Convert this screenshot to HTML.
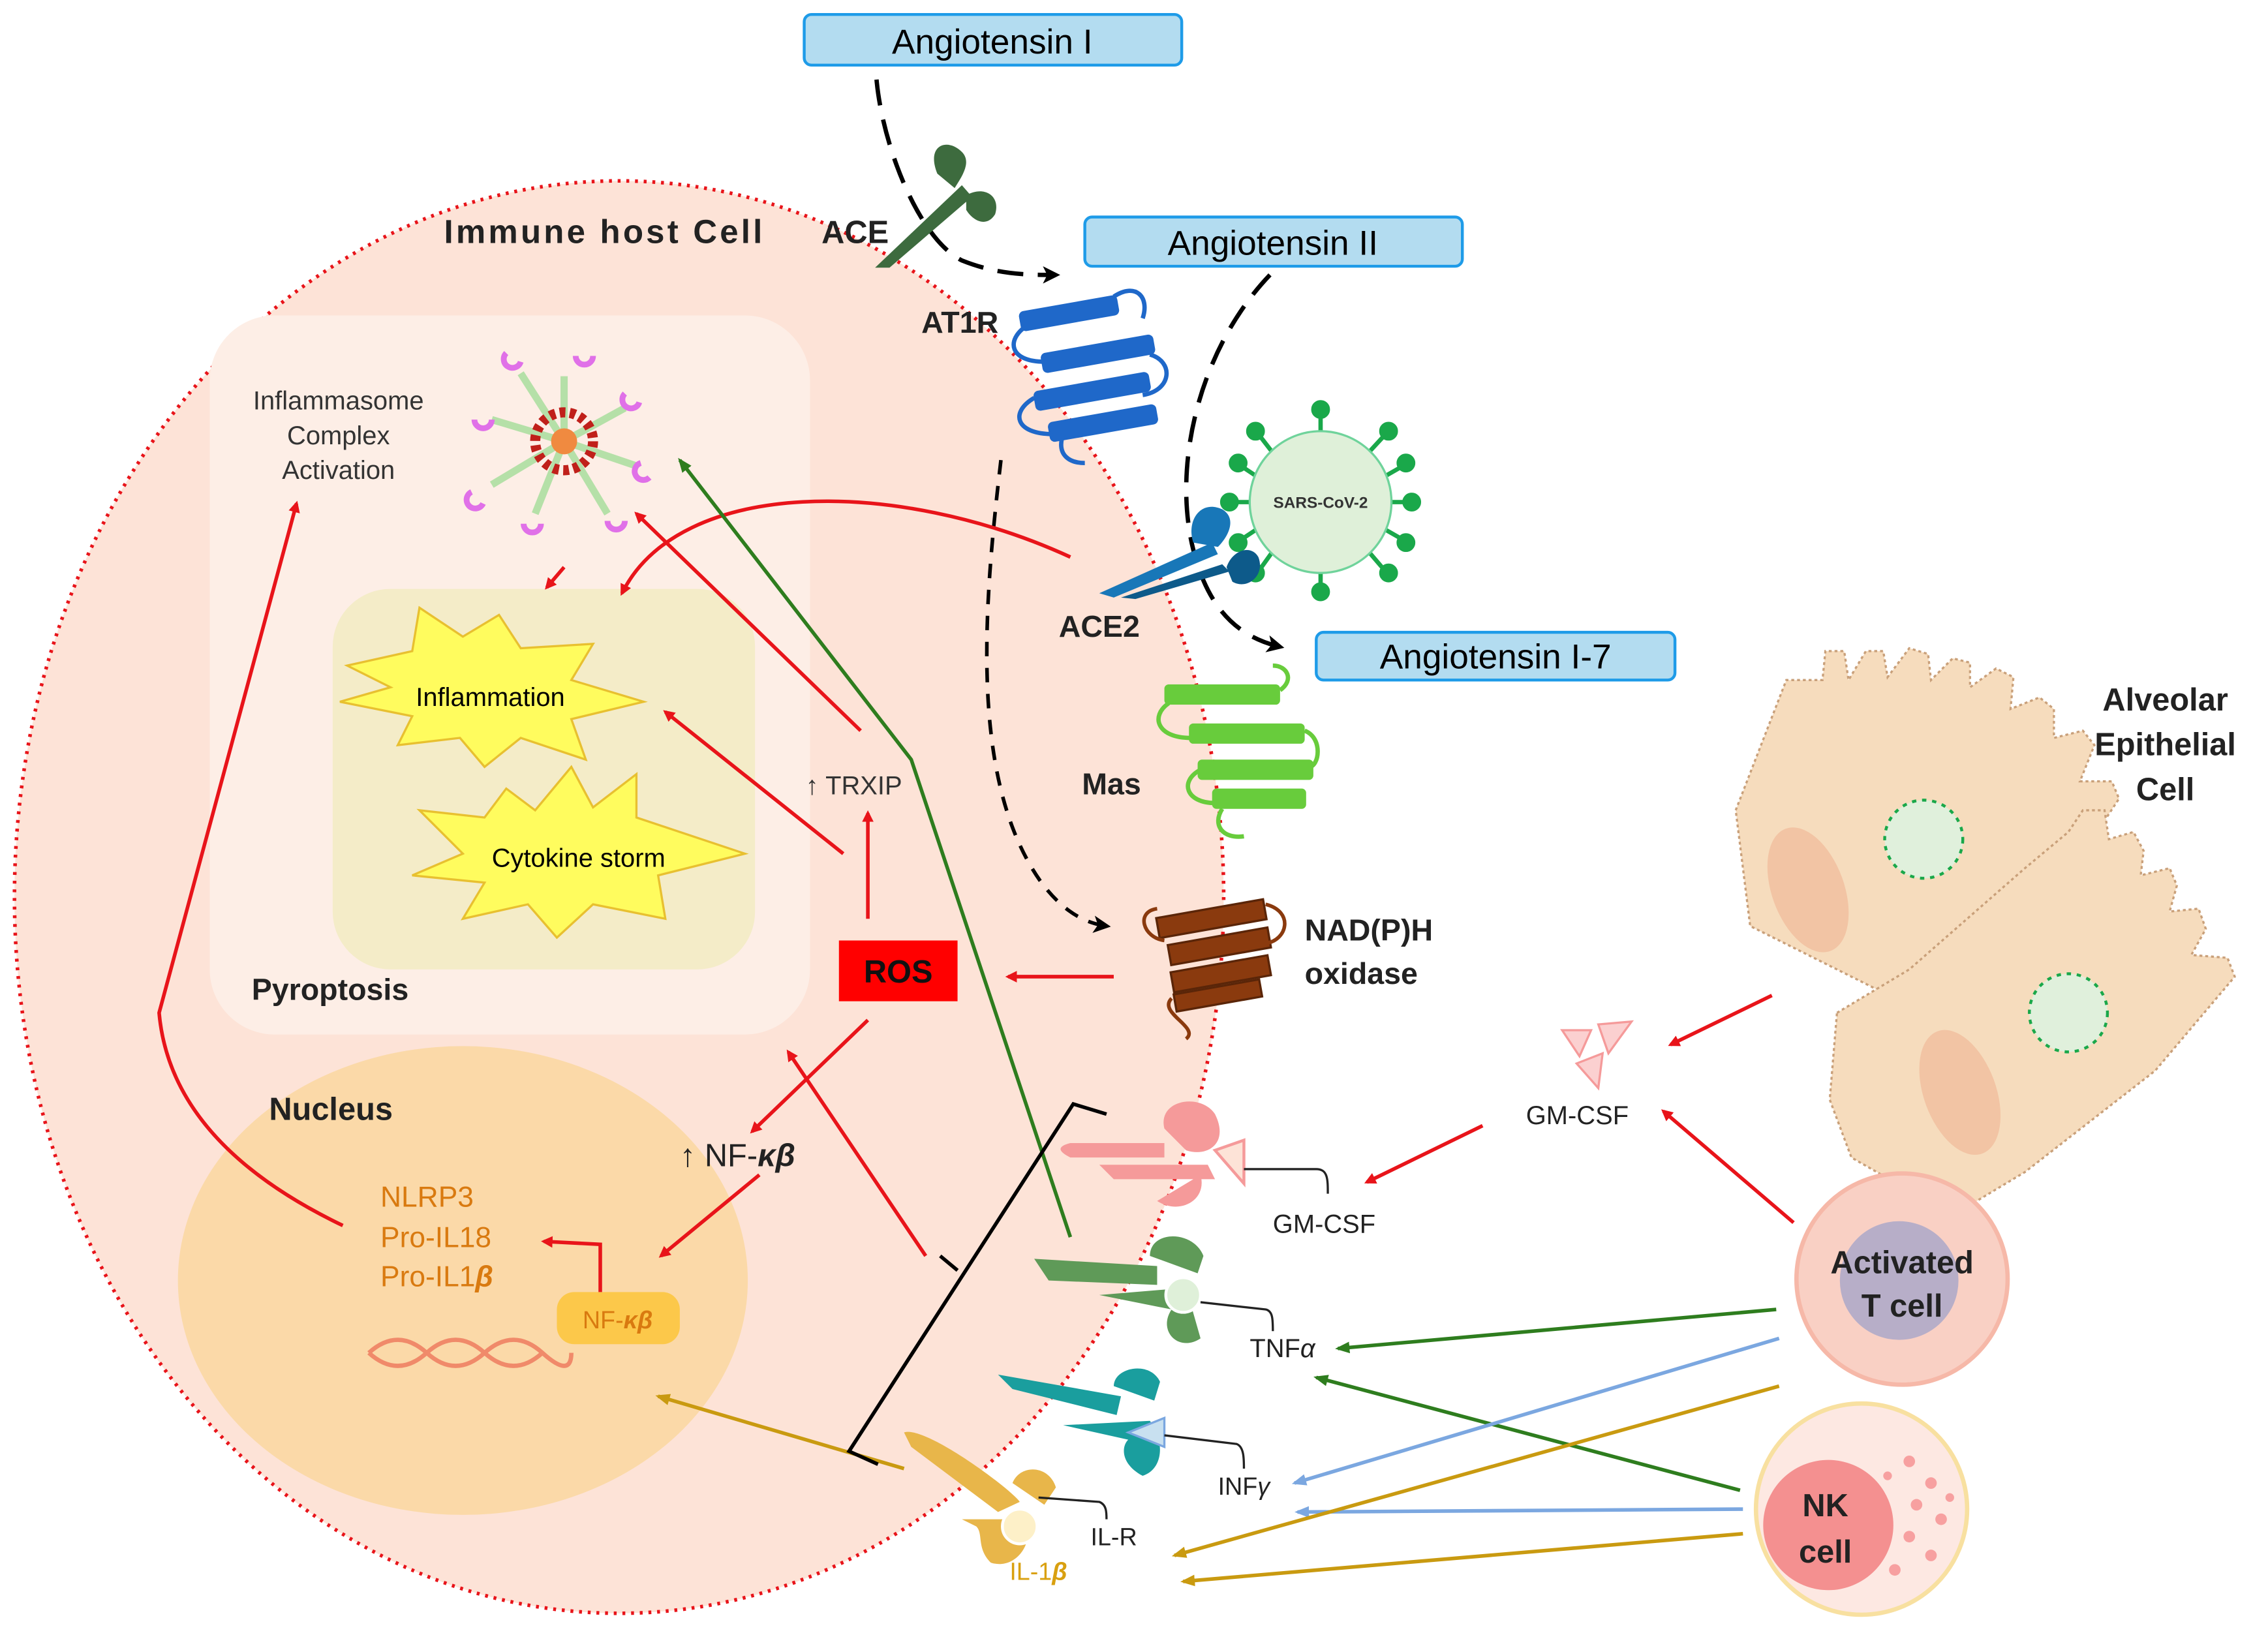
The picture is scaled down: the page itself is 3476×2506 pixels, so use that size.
<!DOCTYPE html>
<html><head><meta charset="utf-8"><style>html,body{margin:0;padding:0;background:#fff}svg{display:block}text{font-family:"Liberation Sans",Arial,sans-serif}</style></head><body>
<svg width="3476" height="2506" viewBox="0 0 1568 1130" preserveAspectRatio="none" xmlns="http://www.w3.org/2000/svg">
<defs>
<marker id="r" markerWidth="8" markerHeight="8" refX="6" refY="4" orient="auto" markerUnits="userSpaceOnUse" viewBox="0 0 8 8"><path d="M0,0 L8,4 L0,8 z" fill="#e8141a"/></marker>
<marker id="k" markerWidth="12" markerHeight="12" refX="9" refY="6" orient="auto" markerUnits="userSpaceOnUse" viewBox="0 0 12 12"><path d="M0,0 L12,6 L0,12 L3,6 z" fill="#000"/></marker>
<marker id="g" markerWidth="10" markerHeight="10" refX="8" refY="5" orient="auto" markerUnits="userSpaceOnUse" viewBox="0 0 10 10"><path d="M0,1 L10,5 L0,9 z" fill="#2e7d1e"/></marker>
<marker id="b" markerWidth="10" markerHeight="10" refX="8" refY="5" orient="auto" markerUnits="userSpaceOnUse" viewBox="0 0 10 10"><path d="M0,1 L10,5 L0,9 z" fill="#7ba7e0"/></marker>
<marker id="y" markerWidth="10" markerHeight="10" refX="8" refY="5" orient="auto" markerUnits="userSpaceOnUse" viewBox="0 0 10 10"><path d="M0,1 L10,5 L0,9 z" fill="#c99a10"/></marker>
</defs>
<ellipse cx="428" cy="620" rx="418" ry="495" fill="#fde3d7" stroke="#e8141a" stroke-width="2.5" stroke-dasharray="2 4"/>
<rect x="145" y="218" width="415" height="497" rx="45" fill="#fdeee6"/>
<rect x="230" y="407" width="292" height="263" rx="40" fill="#f4ecc8"/>
<ellipse cx="320" cy="885" rx="197" ry="162" fill="#fbd9a8"/>
<rect x="556" y="10" width="261" height="35" rx="5" fill="#b3dcf0" stroke="#1e9be8" stroke-width="2"/>
<text x="686" y="37" font-size="24" text-anchor="middle">Angiotensin I</text>
<rect x="750" y="150" width="261" height="34" rx="5" fill="#b3dcf0" stroke="#1e9be8" stroke-width="2"/>
<text x="880" y="176" font-size="24" text-anchor="middle">Angiotensin II</text>
<rect x="910" y="437" width="248" height="33" rx="5" fill="#b3dcf0" stroke="#1e9be8" stroke-width="2"/>
<text x="1034" y="462" font-size="24" text-anchor="middle">Angiotensin I-7</text>
<path d="M606,55 C610,100 635,165 665,180 C690,190 710,190 730,190" fill="none" stroke="#000" stroke-width="3" stroke-dasharray="18 10" marker-end="url(#k)"/>
<path d="M878,190 C830,240 810,320 825,380 C835,420 855,440 885,447" fill="none" stroke="#000" stroke-width="3" stroke-dasharray="18 10" marker-end="url(#k)"/>
<path d="M692,318 C680,420 670,540 720,610 C735,630 750,638 765,640" fill="none" stroke="#000" stroke-width="2.5" stroke-dasharray="10 8" marker-end="url(#k)"/>
<g fill="#3d6b3e"><path d="M605,185 L665,128 L672,136 L615,185z"/><path d="M648,120 C640,100 655,95 665,105 C672,112 665,122 660,130z"/><path d="M668,135 C680,128 692,135 688,148 C682,158 672,152 668,145z"/></g>
<g fill="#1f68c9" stroke="#1f68c9"><rect x="705" y="210" width="68" height="13" rx="3" transform="rotate(-10 739 216)"/><rect x="720" y="238" width="78" height="13" rx="3" transform="rotate(-10 759 244)"/><rect x="715" y="264" width="80" height="13" rx="3" transform="rotate(-10 755 270)"/><rect x="725" y="286" width="75" height="13" rx="3" transform="rotate(-10 762 292)"/></g>
<path d="M770,205 C785,195 795,205 790,220 M710,225 C695,235 698,250 722,250 M795,245 C812,250 810,270 790,273 M715,275 C698,285 702,300 728,300 M735,300 C730,315 740,320 750,320" fill="none" stroke="#1f68c9" stroke-width="3"/>
<g stroke="#1aa84a" stroke-width="3" fill="#1aa84a">
<line x1="913" y1="300" x2="913" y2="282"/><circle cx="913" cy="283" r="5"/>
<line x1="913" y1="394" x2="913" y2="410"/><circle cx="913" cy="409" r="5"/>
<line x1="866" y1="347" x2="850" y2="347"/><circle cx="850" cy="347" r="5"/>
<line x1="960" y1="347" x2="976" y2="347"/><circle cx="976" cy="347" r="5"/>
<line x1="880" y1="313" x2="870" y2="300"/><circle cx="868" cy="298" r="5"/>
<line x1="946" y1="313" x2="958" y2="300"/><circle cx="960" cy="298" r="5"/>
<line x1="880" y1="381" x2="870" y2="395"/><circle cx="868" cy="396" r="5"/>
<line x1="946" y1="381" x2="958" y2="395"/><circle cx="960" cy="396" r="5"/>
<line x1="870" y1="330" x2="858" y2="322"/><circle cx="856" cy="320" r="5"/>
<line x1="956" y1="330" x2="970" y2="322"/><circle cx="972" cy="320" r="5"/>
<line x1="870" y1="365" x2="858" y2="373"/><circle cx="856" cy="375" r="5"/>
<line x1="956" y1="365" x2="970" y2="373"/><circle cx="972" cy="375" r="5"/>
</g>
<circle cx="913" cy="347" r="49" fill="#dff0d9" stroke="#6fd39b" stroke-width="1.5"/>
<text x="913" y="351" font-size="11" font-weight="bold" text-anchor="middle" fill="#333">SARS-CoV-2</text>
<g fill="#1877b8"><path d="M760,410 L838,375 L842,383 L770,413z"/><path d="M825,375 C820,360 830,345 845,352 C855,358 850,370 842,378z"/><path fill="#0d5a8a" d="M775,413 L845,390 L850,395 L785,414z M848,392 C852,380 865,376 870,385 C875,398 862,408 852,402z"/></g>
<g fill="#68cc3c"><rect x="805" y="473" width="80" height="14" rx="3"/><rect x="822" y="500" width="80" height="14" rx="3"/><rect x="828" y="525" width="80" height="14" rx="3"/><rect x="838" y="545" width="65" height="14" rx="3"/></g>
<path d="M885,477 C895,470 890,460 880,460 M808,486 C795,495 800,510 823,510 M902,505 C915,510 912,530 905,530 M830,532 C815,540 820,555 840,555 M845,559 C838,570 845,580 860,578" fill="none" stroke="#68cc3c" stroke-width="3"/>
<g fill="#8a3a0e" stroke="#5a2508" stroke-width="1.5"><rect x="800" y="628" width="75" height="14" transform="rotate(-10 837 635)"/><rect x="808" y="647" width="70" height="14" transform="rotate(-10 843 654)"/><rect x="810" y="666" width="68" height="14" transform="rotate(-10 844 673)"/><rect x="812" y="682" width="60" height="12" transform="rotate(-10 842 688)"/></g>
<path d="M800,628 C785,630 790,648 805,650 M875,625 C895,630 890,650 875,652 M810,690 C800,700 830,710 820,718" fill="none" stroke="#8a3a0e" stroke-width="2.5"/>
<g stroke="#b5e0a8" stroke-width="5">
<line x1="390" y1="305" x2="390" y2="260"/><line x1="390" y1="305" x2="432" y2="282"/><line x1="390" y1="305" x2="440" y2="322"/><line x1="390" y1="305" x2="420" y2="355"/><line x1="390" y1="305" x2="370" y2="355"/><line x1="390" y1="305" x2="340" y2="335"/><line x1="390" y1="305" x2="340" y2="290"/><line x1="390" y1="305" x2="360" y2="258"/></g>
<g fill="none" stroke="#e070e8" stroke-width="4">
<path d="M398,246 a6,6 0 1,0 12,0"/><path d="M432,272 a6,6 0 1,0 10,6"/><path d="M443,320 a6,6 0 1,0 6,10"/><path d="M420,360 a6,6 0 1,0 12,0"/><path d="M362,362 a6,6 0 1,0 12,0"/><path d="M326,340 a6,6 0 1,0 8,8"/><path d="M328,290 a6,6 0 1,0 12,0"/><path d="M350,244 a6,6 0 1,0 10,6"/></g>
<circle cx="390" cy="305" r="20" fill="none" stroke="#c0201a" stroke-width="7" stroke-dasharray="4 3"/>
<circle cx="390" cy="305" r="9" fill="#f08a40"/>
<path d="M240,460 L285,450 L290,420 L320,440 L345,425 L360,448 L410,445 L395,470 L445,485 L395,497 L405,525 L360,510 L335,530 L318,510 L275,515 L285,495 L235,485 L270,475z" fill="#fffc5e" stroke="#e8c030" stroke-width="1.5"/>
<text x="339" y="488" font-size="18" text-anchor="middle">Inflammation</text>
<path d="M290,560 L335,565 L350,545 L370,560 L395,530 L410,558 L440,535 L440,565 L515,590 L455,605 L460,635 L410,625 L385,648 L365,625 L320,635 L335,610 L285,605 L320,590z" fill="#fffc5e" stroke="#e8c030" stroke-width="1.5"/>
<text x="400" y="599" font-size="18" text-anchor="middle">Cytokine storm</text>
<rect x="580" y="650" width="82" height="42" fill="#f00"/>
<text x="621" y="679" font-size="22" font-weight="bold" text-anchor="middle" fill="#111">ROS</text>
<text x="307" y="168" font-size="23" font-weight="bold" fill="#222" textLength="220">Immune host Cell</text>
<text x="568" y="168" font-size="22" font-weight="bold" fill="#222">ACE</text>
<text x="637" y="230" font-size="21" font-weight="bold" fill="#222">AT1R</text>
<text x="732" y="440" font-size="21" font-weight="bold" fill="#222">ACE2</text>
<text x="748" y="549" font-size="21" font-weight="bold" fill="#222">Mas</text>
<text x="902" y="650" font-size="21" font-weight="bold" fill="#222">NAD(P)H</text>
<text x="902" y="680" font-size="21" font-weight="bold" fill="#222">oxidase</text>
<text x="234" y="283" font-size="18" text-anchor="middle" fill="#333">Inflammasome</text>
<text x="234" y="307" font-size="18" text-anchor="middle" fill="#333">Complex</text>
<text x="234" y="331" font-size="18" text-anchor="middle" fill="#333">Activation</text>
<text x="174" y="691" font-size="21" font-weight="bold" fill="#222">Pyroptosis</text>
<text x="186" y="774" font-size="22" font-weight="bold" fill="#222">Nucleus</text>
<text x="557" y="549" font-size="18" fill="#333">↑ TRXIP</text>
<text x="470" y="806" font-size="22" fill="#222">↑ NF-<tspan font-weight="bold" font-style="italic">κβ</tspan></text>
<text x="263" y="834" font-size="20" fill="#d97a10">NLRP3</text>
<text x="263" y="862" font-size="20" fill="#d97a10">Pro-IL18</text>
<text x="263" y="889" font-size="20" fill="#d97a10">Pro-IL1<tspan font-style="italic" font-weight="bold">β</tspan></text>
<rect x="385" y="893" width="85" height="36" rx="12" fill="#fcc84a"/>
<text x="427" y="918" font-size="17" text-anchor="middle" fill="#d97a10">NF-<tspan font-weight="bold" font-style="italic">κβ</tspan></text>
<path d="M255,935 q20,-18 40,0 t40,0 t40,0 t20,0 M255,935 q20,18 40,0 t40,0 t40,0" fill="none" stroke="#f08a6a" stroke-width="3"/>
<g stroke="#e8141a" stroke-width="2.5" fill="none" marker-end="url(#r)">
<path d="M237,847 Q118,790 110,700 L205,348"/>
<path d="M740,385 C620,330 470,330 430,410"/>
<path d="M390,392 L378,406"/>
<path d="M595,505 L440,355"/>
<path d="M600,635 L600,562"/>
<path d="M583,590 L460,492"/>
<path d="M770,675 L697,675"/>
<path d="M600,705 L520,782"/>
<path d="M525,812 L457,868"/>
<path d="M640,868 L545,727"/>
<path d="M415,893 L415,860 L376,858"/>
<path d="M1225,688 L1155,722"/>
<path d="M1240,845 L1150,768"/>
<path d="M1025,778 L945,817"/>
</g>
<path d="M740,855 L630,525 L470,318" fill="none" stroke="#2e7d1e" stroke-width="2.5" marker-end="url(#g)"/>
<path d="M1228,905 L925,932" stroke="#2e7d1e" stroke-width="2.5" marker-end="url(#g)"/>
<path d="M1203,1030 L910,952" stroke="#2e7d1e" stroke-width="2.5" marker-end="url(#g)"/>
<path d="M1230,925 L895,1025" stroke="#7ba7e0" stroke-width="2.5" marker-end="url(#b)"/>
<path d="M1205,1043 L897,1045" stroke="#7ba7e0" stroke-width="2.5" marker-end="url(#b)"/>
<path d="M1230,958 L812,1075" stroke="#c99a10" stroke-width="2.5" marker-end="url(#y)"/>
<path d="M1205,1060 L818,1093" stroke="#c99a10" stroke-width="2.5" marker-end="url(#y)"/>
<path d="M625,1015 L455,965" stroke="#c99a10" stroke-width="2.5" marker-end="url(#y)"/>
<path d="M765,770 L742,763 L587,1003 L607,1012 M662,878 L650,868" fill="none" stroke="#000" stroke-width="2.5"/>
<g fill="#f59a9a"><path d="M740,790 L805,790 L805,800 L740,800 C730,795 732,792 740,790z"/><path d="M805,780 C800,760 830,755 840,770 C850,790 835,800 820,795z"/><path d="M760,805 L835,805 L840,815 L770,815z M830,812 C835,830 815,840 800,830z"/></g>
<path d="M840,795 L860,788 L860,818z" fill="#fde3d7" stroke="#f59a9a" stroke-width="2"/>
<path d="M860,808 L910,808 C918,808 918,815 918,825" fill="none" stroke="#222" stroke-width="1.5"/>
<text x="880" y="852" font-size="18" fill="#222">GM-CSF</text>
<g fill="#5f9a58"><path d="M715,870 L800,875 L800,888 L725,885z"/><path d="M795,868 C795,850 825,850 832,868 L828,880z"/><path d="M760,895 L820,890 L830,925 C815,935 800,920 810,905z"/></g>
<circle cx="818" cy="895" r="12" fill="#dff0d9" stroke="#fff" stroke-width="2"/>
<path d="M830,900 L875,905 C880,906 880,912 880,920" fill="none" stroke="#222" stroke-width="1.5"/>
<text x="864" y="938" font-size="18" fill="#222">TNF<tspan font-style="italic">α</tspan></text>
<g fill="#1a9e9e"><path d="M690,950 L775,965 L772,978 L700,960z"/><path d="M770,958 C770,945 795,940 802,955 L798,968z"/><path d="M735,985 L795,982 C805,995 805,1015 790,1020 C775,1012 775,1000 780,995z"/></g>
<path d="M780,990 L805,980 L805,1000z" fill="#c8e0f0" stroke="#7ba7e0" stroke-width="1.5"/>
<path d="M805,992 L855,998 C860,1000 860,1008 860,1015" fill="none" stroke="#222" stroke-width="1.5"/>
<text x="842" y="1033" font-size="17" fill="#222">INF<tspan font-style="italic">γ</tspan></text>
<g fill="#e8b64a"><path d="M625,990 C640,985 700,1030 705,1038 L690,1045 L630,1000z"/><path d="M700,1025 C705,1012 725,1012 730,1028 L722,1040z"/><path d="M665,1050 L710,1050 C715,1070 700,1085 685,1080 C675,1070 680,1060 675,1055z"/></g>
<circle cx="705" cy="1055" r="12" fill="#fdf0c8" stroke="#fff" stroke-width="2"/>
<path d="M718,1035 L760,1038 C765,1040 765,1045 765,1050" fill="none" stroke="#222" stroke-width="1.5"/>
<text x="754" y="1068" font-size="17" fill="#222">IL-R</text>
<text x="698" y="1092" font-size="17" fill="#d9a010">IL-1<tspan font-style="italic" font-weight="bold">β</tspan></text>
<g fill="#fbd0d0" stroke="#f59a9a" stroke-width="1.5"><path d="M1080,712 L1100,712 L1092,730z"/><path d="M1105,708 L1128,706 L1112,728z"/><path d="M1090,735 L1108,728 L1105,752z"/></g>
<text x="1055" y="777" font-size="18" fill="#222">GM-CSF</text>
<g fill="#f6dcbd" stroke="#c9a07a" stroke-width="1.5" stroke-dasharray="2 2">
<path d="M1200,560 L1235,470 L1260,470 L1262,450 L1275,450 L1278,470 L1290,450 L1302,450 L1305,468 L1320,448 L1333,452 L1335,470 L1350,455 L1362,458 L1362,475 L1380,462 L1392,468 L1390,490 L1410,482 L1420,490 L1420,510 L1440,505 L1448,515 L1438,540 L1460,540 L1465,552 L1420,620 L1330,700 L1210,640z"/>
<path d="M1270,700 L1320,670 L1400,600 L1430,575 L1440,560 L1455,560 L1458,580 L1475,575 L1482,588 L1480,605 L1500,600 L1505,612 L1500,630 L1520,628 L1525,642 L1515,660 L1540,662 L1545,675 L1490,740 L1400,810 L1350,840 L1280,800 L1265,760z"/></g>
<ellipse cx="1250" cy="615" rx="25" ry="45" fill="#f2c4a4" transform="rotate(-20 1250 615)"/>
<ellipse cx="1355" cy="755" rx="25" ry="45" fill="#f2c4a4" transform="rotate(-20 1355 755)"/>
<g fill="#e0f0dc" stroke="#1aa84a" stroke-width="2" stroke-dasharray="3 4"><circle cx="1330" cy="580" r="27"/><circle cx="1430" cy="700" r="27"/></g>
<text x="1497" y="491" font-size="22" font-weight="bold" text-anchor="middle" fill="#222">Alveolar</text>
<text x="1497" y="522" font-size="22" font-weight="bold" text-anchor="middle" fill="#222">Epithelial</text>
<text x="1497" y="553" font-size="22" font-weight="bold" text-anchor="middle" fill="#222">Cell</text>
<circle cx="1315" cy="884" r="73" fill="#f9d0c4" stroke="#f6b8a8" stroke-width="3"/>
<circle cx="1313" cy="885" r="41" fill="#b7aec8"/>
<text x="1315" y="880" font-size="22" font-weight="bold" text-anchor="middle" fill="#222">Activated</text>
<text x="1315" y="910" font-size="22" font-weight="bold" text-anchor="middle" fill="#222">T cell</text>
<circle cx="1287" cy="1043" r="73" fill="#fde8e2" stroke="#f8e0a0" stroke-width="3"/>
<circle cx="1264" cy="1054" r="45" fill="#f49090"/>
<g fill="#f7a0a0"><circle cx="1320" cy="1010" r="4"/><circle cx="1335" cy="1025" r="4"/><circle cx="1325" cy="1040" r="4"/><circle cx="1342" cy="1050" r="4"/><circle cx="1320" cy="1062" r="4"/><circle cx="1335" cy="1075" r="4"/><circle cx="1310" cy="1085" r="4"/><circle cx="1348" cy="1035" r="3"/><circle cx="1305" cy="1020" r="3"/></g>
<text x="1262" y="1048" font-size="22" font-weight="bold" text-anchor="middle" fill="#222">NK</text>
<text x="1262" y="1080" font-size="22" font-weight="bold" text-anchor="middle" fill="#222">cell</text>
</svg>
</body></html>
